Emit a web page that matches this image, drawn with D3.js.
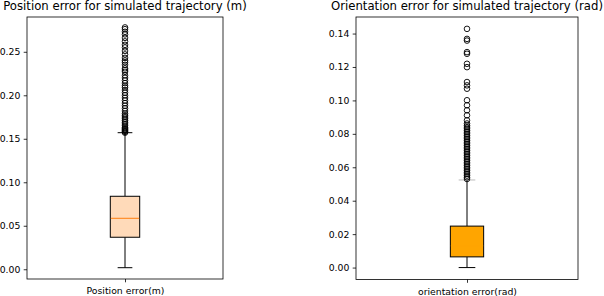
<!DOCTYPE html>
<html>
<head>
<script src="https://d3js.org/d3.v7.min.js"></script>
<style>
  body { margin: 0; background: #fff; }
  text { font-family: "DejaVu Sans", sans-serif; fill: #000; }
</style>
</head>
<body>
<svg id="chart" width="604" height="296"></svg>
<script>
// box stats: [whiskerLow, q1, median, q3, whiskerHigh]
const posStats = [0.0018, 0.0368, 0.0586, 0.0839, 0.157];
const oriStats = [0.0, 0.0064, 0.013, 0.0248, 0.0524];

// outliers (fliers)
const posOutliers = [0.278, 0.276, 0.273, 0.270, 0.266, 0.262, 0.258, 0.255, 0.251, 0.247,
  0.243, 0.240, 0.238, 0.235, 0.231, 0.229, 0.227, 0.223, 0.220, 0.217, 0.214, 0.211,
  0.209, 0.206, 0.203, 0.200, 0.197, 0.194, 0.191, 0.188, 0.185, 0.182, 0.179, 0.177,
  0.175, 0.173, 0.171, 0.169, 0.167, 0.165, 0.163, 0.162, 0.161, 0.160, 0.159, 0.158, 0.157];
const oriOutliers = [0.1428, 0.1368, 0.1358, 0.1289, 0.1279, 0.1219, 0.1199, 0.1110, 0.1090,
  0.1070, 0.1001, 0.0971, 0.0941, 0.0911, 0.0881, 0.0862, 0.085, 0.084, 0.083, 0.082, 0.081,
  0.080, 0.079, 0.078, 0.077, 0.076, 0.075, 0.074, 0.073, 0.072, 0.071, 0.070, 0.069, 0.068,
  0.067, 0.066, 0.065, 0.064, 0.063, 0.062, 0.061, 0.060, 0.059, 0.058, 0.057, 0.056, 0.055,
  0.054, 0.053];

const posTicks = [0, 0.05, 0.10, 0.15, 0.20, 0.25];
const oriTicks = [0, 0.02, 0.04, 0.06, 0.08, 0.10, 0.12, 0.14];

const titles = ["Position error for simulated trajectory (m)", "Orientation error for simulated trajectory (rad)"];
const xLabels = ["Position error(m)", "orientation error(rad)"];

const svg = d3.select("#chart");

function drawPanel(opts) {
  const { left, right, top, bottom, stats, outliers, ticks, yDomain, title, xLabel, fill, medColor, capColor } = opts;
  const g = svg.append("g");
  const x = d3.scaleLinear().domain([0.5, 1.5]).range([left, right]);
  const y = d3.scaleLinear().domain(yDomain).range([bottom, top]);

  const [lo, q1, med, q3, hi] = stats;
  const bw = 0.15;

  // whiskers
  g.append("line").attr("x1", x(1)).attr("x2", x(1)).attr("y1", y(lo)).attr("y2", y(q1))
    .attr("stroke", "#000").attr("stroke-width", 1);
  g.append("line").attr("x1", x(1)).attr("x2", x(1)).attr("y1", y(q3)).attr("y2", y(hi))
    .attr("stroke", "#000").attr("stroke-width", 1);
  // caps
  g.append("line").attr("x1", x(1 - bw / 4)).attr("x2", x(1 + bw / 4)).attr("y1", y(lo)).attr("y2", y(lo))
    .attr("stroke", "#000").attr("stroke-width", 1);
  g.append("line").attr("x1", x(1 - bw / 4)).attr("x2", x(1 + bw / 4)).attr("y1", y(hi)).attr("y2", y(hi))
    .attr("stroke", capColor).attr("stroke-width", 1);

  // box
  g.append("rect").attr("x", x(1 - bw / 2)).attr("width", x(1 + bw / 2) - x(1 - bw / 2))
    .attr("y", y(q3)).attr("height", y(q1) - y(q3))
    .attr("fill", fill).attr("stroke", "#000").attr("stroke-width", 1);
  g.append("line").attr("x1", x(1 - bw / 2) + 0.5).attr("x2", x(1 + bw / 2) - 0.5).attr("y1", y(med)).attr("y2", y(med))
    .attr("stroke", medColor).attr("stroke-width", 1);

  // outliers
  g.selectAll("circle.fl").data(outliers).join("circle")
    .attr("class", "fl")
    .attr("cx", x(1)).attr("cy", d => y(d)).attr("r", 2.8)
    .attr("fill", "none").attr("stroke", "#000").attr("stroke-width", 0.9);

  // y axis
  const yAxis = d3.axisLeft(y).tickValues(ticks).tickFormat(d3.format(".2f"))
    .tickSize(3.3).tickPadding(3.3);
  const ya = g.append("g").attr("transform", `translate(${left},0)`).call(yAxis);
  ya.select(".domain").remove();
  ya.selectAll("text").style("font-size", "9.3px");
  ya.selectAll("line").attr("stroke-width", 0.8);

  // x axis
  const xAxis = d3.axisBottom(x).tickValues([1]).tickFormat(() => xLabel)
    .tickSize(3.3).tickPadding(5.3);
  const xa = g.append("g").attr("transform", `translate(0,${bottom})`).call(xAxis);
  xa.select(".domain").remove();
  xa.selectAll("text").style("font-size", "9.3px");
  xa.selectAll("line").attr("stroke-width", 0.8);

  // frame
  g.append("rect").attr("x", left).attr("y", top).attr("width", right - left).attr("height", bottom - top)
    .attr("fill", "none").attr("stroke", "#000").attr("stroke-width", 0.8);

  // title
  g.append("text").attr("x", (left + right) / 2).attr("y", top - 7)
    .attr("text-anchor", "middle").style("font-size", "11.7px").text(title);
}

drawPanel({
  left: 27, right: 223, top: 17, bottom: 279,
  stats: posStats, outliers: posOutliers, ticks: posTicks,
  yDomain: [-0.0112, 0.2900], title: titles[0], xLabel: xLabels[0],
  fill: "#ffdab9", medColor: "#ff7f0e", capColor: "#000"
});

drawPanel({
  left: 356, right: 578, top: 17, bottom: 279.5,
  stats: oriStats, outliers: oriOutliers, ticks: oriTicks,
  yDomain: [-0.00714, 0.1499], title: titles[1], xLabel: xLabels[1],
  fill: "#ffa500", medColor: "#ffa500", capColor: "#bbb"
});
</script>
</body>
</html>
